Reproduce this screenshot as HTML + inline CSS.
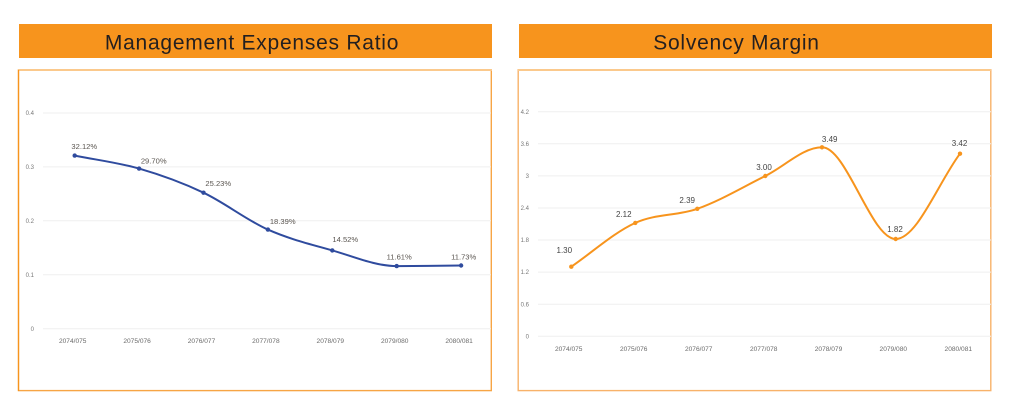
<!DOCTYPE html>
<html><head><meta charset="utf-8"><style>
html,body{margin:0;padding:0;background:#fff;}
svg{display:block;}
text{font-family:"Liberation Sans",sans-serif;}
</style></head><body>
<svg width="1009" height="408" viewBox="0 0 1009 408" xmlns="http://www.w3.org/2000/svg">
<rect width="1009" height="408" fill="#fff"/>
<!-- headers -->
<rect x="19" y="24" width="473" height="34" fill="#F7941D"/>
<rect x="519" y="24" width="473" height="34" fill="#F7941D"/>
<text x="252" y="49.5" font-size="21" letter-spacing="0.75" text-anchor="middle" fill="#231F20">Management Expenses Ratio</text>
<text x="736.5" y="49.5" font-size="21" letter-spacing="0.75" text-anchor="middle" fill="#231F20">Solvency Margin</text>
<!-- boxes -->
<rect x="18.5" y="69.8" width="472.8" height="320.8" fill="none" stroke="#F7A545" stroke-width="1.4"/>
<line x1="18" y1="70" x2="492" y2="70" stroke="#FBC98C" stroke-width="2"/>
<line x1="18.5" y1="70" x2="18.5" y2="391" stroke="#F7941D" stroke-width="1.2"/>
<rect x="518.2" y="69.8" width="472.6" height="320.8" fill="none" stroke="#F8B26A" stroke-width="1.4"/>
<line x1="518" y1="70" x2="991" y2="70" stroke="#FBC98C" stroke-width="2"/>

<!-- left grid -->
<g stroke="#EFEFEF" stroke-width="1">
<line x1="43" y1="113" x2="491" y2="113"/>
<line x1="43" y1="166.9" x2="491" y2="166.9"/>
<line x1="43" y1="220.8" x2="491" y2="220.8"/>
<line x1="43" y1="274.7" x2="491" y2="274.7"/>
<line x1="43" y1="328.7" x2="491" y2="328.7"/>
</g>
<g font-size="6" fill="#777" text-anchor="end">
<text x="34" y="115">0.4</text>
<text x="34" y="169">0.3</text>
<text x="34" y="223">0.2</text>
<text x="34" y="277">0.1</text>
<text x="34" y="331">0</text>
</g>
<g font-size="6.6" fill="#6b6b6b" text-anchor="middle">
<text x="72.7" y="343">2074/075</text>
<text x="137.1" y="343">2075/076</text>
<text x="201.5" y="343">2076/077</text>
<text x="265.9" y="343">2077/078</text>
<text x="330.3" y="343">2078/079</text>
<text x="394.7" y="343">2079/080</text>
<text x="459.1" y="343">2080/081</text>
</g>
<path d="M74.7,155.6 C96.2,159.9 117.6,162.4 139.1,168.6 C160.6,174.8 182.0,182.5 203.5,192.7 C225.0,202.9 246.4,220.0 267.9,229.6 C289.4,239.2 310.8,244.3 332.3,250.4 C353.8,256.5 375.2,266.1 396.7,266.1 C418.2,266.1 439.6,265.7 461.1,265.5" fill="none" stroke="#2F4B9E" stroke-width="2"/>
<g fill="#2F4B9E">
<circle cx="74.7" cy="155.6" r="2.2"/><circle cx="139.1" cy="168.6" r="2.2"/><circle cx="203.5" cy="192.7" r="2.2"/><circle cx="267.9" cy="229.6" r="2.2"/><circle cx="332.3" cy="250.4" r="2.2"/><circle cx="396.7" cy="266.1" r="2.2"/><circle cx="461.1" cy="265.5" r="2.2"/>
</g>
<g font-size="7.6" fill="#5a5550" text-anchor="middle">
<text x="84.3" y="149">32.12%</text>
<text x="153.7" y="163.4">29.70%</text>
<text x="218.3" y="186">25.23%</text>
<text x="282.7" y="224">18.39%</text>
<text x="345.3" y="242">14.52%</text>
<text x="399.2" y="259.4">11.61%</text>
<text x="463.7" y="259.4">11.73%</text>
</g>

<!-- right grid -->
<g stroke="#EFEFEF" stroke-width="1">
<line x1="538" y1="111.7" x2="991" y2="111.7"/>
<line x1="538" y1="143.8" x2="991" y2="143.8"/>
<line x1="538" y1="175.9" x2="991" y2="175.9"/>
<line x1="538" y1="208" x2="991" y2="208"/>
<line x1="538" y1="240" x2="991" y2="240"/>
<line x1="538" y1="272.1" x2="991" y2="272.1"/>
<line x1="538" y1="304.2" x2="991" y2="304.2"/>
<line x1="538" y1="336.3" x2="991" y2="336.3"/>
</g>
<g font-size="6" fill="#777" text-anchor="end">
<text x="529" y="113.8">4.2</text>
<text x="529" y="145.9">3.6</text>
<text x="529" y="178">3</text>
<text x="529" y="210.1">2.4</text>
<text x="529" y="242.1">1.8</text>
<text x="529" y="274.2">1.2</text>
<text x="529" y="306.3">0.6</text>
<text x="529" y="338.4">0</text>
</g>
<g font-size="6.6" fill="#6b6b6b" text-anchor="middle">
<text x="568.7" y="351">2074/075</text>
<text x="633.7" y="351">2075/076</text>
<text x="698.7" y="351">2076/077</text>
<text x="763.7" y="351">2077/078</text>
<text x="828.5" y="351">2078/079</text>
<text x="893.3" y="351">2079/080</text>
<text x="958.3" y="351">2080/081</text>
</g>
<path d="M571.3,266.7 C592.6,252.1 614.0,232.6 635.3,222.9 C656.0,213.5 676.6,216.1 697.3,208.8 C720.0,200.8 742.6,187.2 765.3,176 C784.2,166.7 803.1,147.3 822,147.3 C846.6,147.3 871.1,239 895.7,239 C917.1,239 938.6,182.1 960,153.7" fill="none" stroke="#F7941D" stroke-width="2"/>
<g fill="#F7941D">
<circle cx="571.3" cy="266.7" r="2.2"/><circle cx="635.3" cy="222.9" r="2.2"/><circle cx="697.3" cy="208.8" r="2.2"/><circle cx="765.3" cy="176" r="2.2"/><circle cx="822" cy="147.3" r="2.2"/><circle cx="895.7" cy="239" r="2.2"/><circle cx="960" cy="153.7" r="2.2"/>
</g>
<g font-size="8" fill="#444" text-anchor="middle">
<text x="564.3" y="252.8">1.30</text>
<text x="623.8" y="216.8">2.12</text>
<text x="687.2" y="202.8">2.39</text>
<text x="764" y="170.1">3.00</text>
<text x="829.7" y="142.1">3.49</text>
<text x="895" y="231.8">1.82</text>
<text x="959.5" y="146.1">3.42</text>
</g>
</svg>
</body></html>
